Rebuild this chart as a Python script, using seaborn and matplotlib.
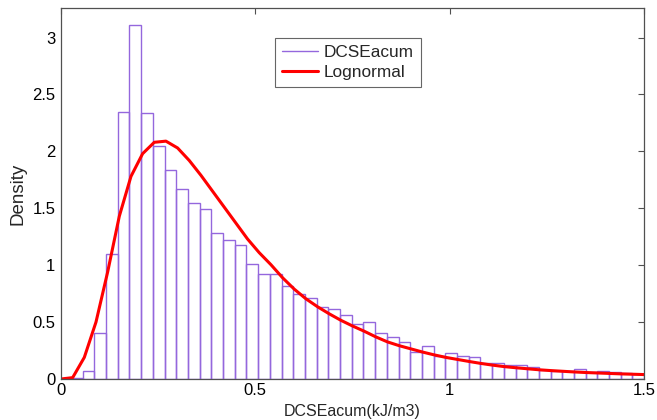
import numpy as np
import pandas as pd
import matplotlib
matplotlib.use("Agg")
import matplotlib.pyplot as plt
import seaborn as sns
from matplotlib.lines import Line2D

# ---- data ----
bin_start = 0.0256
bin_width = 0.0301
bar_heights = [0.008, 0.073, 0.408, 1.10, 2.35, 3.115, 2.335, 2.047, 1.835, 1.668,
               1.548, 1.492, 1.283, 1.219, 1.175, 1.013, 0.919, 0.919, 0.819, 0.746,
               0.711, 0.631, 0.617, 0.561, 0.479, 0.50, 0.40, 0.37, 0.323, 0.235,
               0.287, 0.20, 0.226, 0.205, 0.196, 0.144, 0.138, 0.126, 0.12, 0.109,
               0.08, 0.07, 0.068, 0.085, 0.06, 0.068, 0.065, 0.05, 0.045]

curve_x = [0.00, 0.03, 0.06, 0.09, 0.12, 0.15, 0.18, 0.21, 0.24, 0.27,
           0.30, 0.33, 0.36, 0.39, 0.42, 0.45, 0.48, 0.51, 0.54, 0.57,
           0.60, 0.63, 0.66, 0.69, 0.72, 0.75, 0.78, 0.81, 0.84, 0.87,
           0.90, 0.93, 0.96, 0.99, 1.02, 1.05, 1.08, 1.11, 1.14, 1.17,
           1.20, 1.23, 1.26, 1.29, 1.32, 1.35, 1.38, 1.41, 1.44, 1.47, 1.50]
curve_y = [0.0, 0.012, 0.19, 0.50, 0.94, 1.43, 1.78, 1.98, 2.08, 2.09,
           2.03, 1.92, 1.79, 1.65, 1.51, 1.37, 1.23, 1.11, 1.005, 0.89,
           0.79, 0.705, 0.635, 0.573, 0.516, 0.466, 0.42, 0.37, 0.326, 0.293,
           0.265, 0.237, 0.212, 0.19, 0.172, 0.154, 0.137, 0.122, 0.109, 0.099,
           0.090, 0.081, 0.074, 0.068, 0.062, 0.057, 0.053, 0.049, 0.045, 0.042, 0.039]

x_ticks = [0, 0.5, 1, 1.5]
x_tick_labels = ["0", "0.5", "1", "1.5"]
y_ticks = [0, 0.5, 1, 1.5, 2, 2.5, 3]
y_tick_labels = ["0", "0.5", "1", "1.5", "2", "2.5", "3"]

hist_label = "DCSEacum"
curve_label = "Lognormal"
x_label = "DCSEacum(kJ/m3)"
y_label = "Density"

# ---- build ----
n_bins = len(bar_heights)
edges = bin_start + bin_width * np.arange(n_bins + 1)
centers = (edges[:-1] + edges[1:]) / 2
hist_df = pd.DataFrame({"x": centers, "w": bar_heights})
curve_df = pd.DataFrame({"x": curve_x, "y": curve_y})

sns.set_style("white")
plt.rcParams["font.family"] = ["Liberation Sans", "DejaVu Sans"]

purple = "#9467dd"
spine_col = "#505050"

fig = plt.figure(figsize=(6.57, 4.20), dpi=100)
ax = fig.add_axes([61 / 657, 1 - 379 / 420, 583 / 657, 371 / 420])

sns.histplot(data=hist_df, x="x", weights="w",
             binwidth=bin_width, binrange=(float(edges[0]), float(edges[-1])),
             fill=False, element="bars", color=purple, linewidth=1.0, ax=ax)
sns.lineplot(data=curve_df, x="x", y="y", color="red", linewidth=2.2, ax=ax)

ax.set_xlim(0, 1.5)
ax.set_ylim(0, 3.26)
ax.set_xticks(x_ticks)
ax.set_xticklabels(x_tick_labels)
ax.set_yticks(y_ticks)
ax.set_yticklabels(y_tick_labels)
ax.set_xlabel(x_label, fontsize=11.5, labelpad=4)
ax.set_ylabel(y_label, fontsize=13.5, labelpad=4)

for s in ax.spines.values():
    s.set_visible(True)
    s.set_color(spine_col)
    s.set_linewidth(0.9)
ax.tick_params(direction="in", length=4, width=0.8, color=spine_col,
               top=True, right=True, labelsize=12, labelcolor="black")
ax.tick_params(axis="y", pad=4)
ax.tick_params(axis="x", pad=3)

handles = [Line2D([], [], color=purple, lw=1.0),
           Line2D([], [], color="red", lw=2.2)]
leg = ax.legend(handles, [hist_label, curve_label], loc="upper left",
                bbox_to_anchor=(0.367, 0.919), borderaxespad=0, fancybox=False,
                framealpha=1, edgecolor="#666666", fontsize=12.4,
                handlelength=2.1, handletextpad=0.3, borderpad=0.42,
                labelspacing=0.28)
leg.get_frame().set_linewidth(0.8)

fig.savefig("out.png", dpi=100, facecolor="white")
